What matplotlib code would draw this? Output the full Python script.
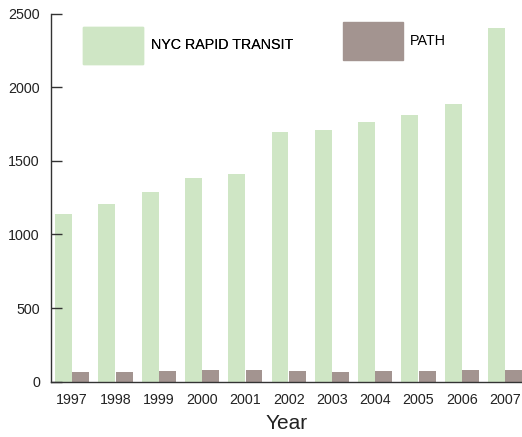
import matplotlib.pyplot as plt
from matplotlib.patches import Patch
import numpy as np

plt.rcParams['font.family'] = ['Liberation Sans', 'DejaVu Sans']

# Data
years = ['1997', '1998', '1999', '2000', '2001', '2002',
         '2003', '2004', '2005', '2006', '2007']
nyc_rapid_transit = [1138, 1208, 1290, 1385, 1412, 1699,
                     1708, 1767, 1812, 1885, 2405]
path = [63, 66, 70, 81, 79, 70, 68, 73, 73, 77, 81]

green = '#cfe6c5'
brown = '#a39490'

fig = plt.figure(figsize=(5.22, 4.37), dpi=100)
ax = fig.add_axes([51 / 522, 55.5 / 437, 1 - 51 / 522, 367.5 / 437])

x = np.arange(len(years))
w = 0.39
ax.bar(x - 0.2, nyc_rapid_transit, w, color=green)
ax.bar(x + 0.2, path, w, color=brown)

ax.set_xlim(-0.49, 10.39)
ax.set_ylim(0, 2500)
ax.set_yticks([0, 500, 1000, 1500, 2000, 2500])
ax.set_xticks(x)
ax.set_xticklabels(years)

for s in ['top', 'right']:
    ax.spines[s].set_visible(False)
for s in ['left', 'bottom']:
    ax.spines[s].set_color('#333333')
    ax.spines[s].set_linewidth(1.0)

ax.tick_params(axis='y', direction='in', length=8, width=1, color='#333333',
               labelsize=10.3, pad=8, labelcolor='#222222')
ax.tick_params(axis='x', length=0, labelsize=10.3, pad=8, labelcolor='#222222')
ax.set_xlabel('Year', fontsize=15, labelpad=5, color='#222222')


# legend handle height in matplotlib = fs*hh - 0.35*fs*(hh-0.7)
def handle_h(px, fs_px):
    return (px / fs_px - 0.245) / 0.65


# Two separate legend boxes as in the original
fs = 10.3
fs_px = fs * 100 / 72
leg1 = fig.legend(handles=[Patch(color=green, label='NYC RAPID TRANSIT')],
                  loc='upper left', bbox_to_anchor=(83 / 522, 1 - 27 / 437),
                  frameon=False, fontsize=fs, borderpad=0, borderaxespad=0,
                  handlelength=60 / fs_px, handleheight=handle_h(37, fs_px),
                  handletextpad=0.55)
leg2 = fig.legend(handles=[Patch(color=brown, label='PATH')],
                  loc='upper left', bbox_to_anchor=(343 / 522, 1 - 22 / 437),
                  frameon=False, fontsize=fs, borderpad=0, borderaxespad=0,
                  handlelength=60 / fs_px, handleheight=handle_h(38, fs_px),
                  handletextpad=0.5)
fig.add_artist(leg1)

fig.savefig('out.png', dpi=100)
